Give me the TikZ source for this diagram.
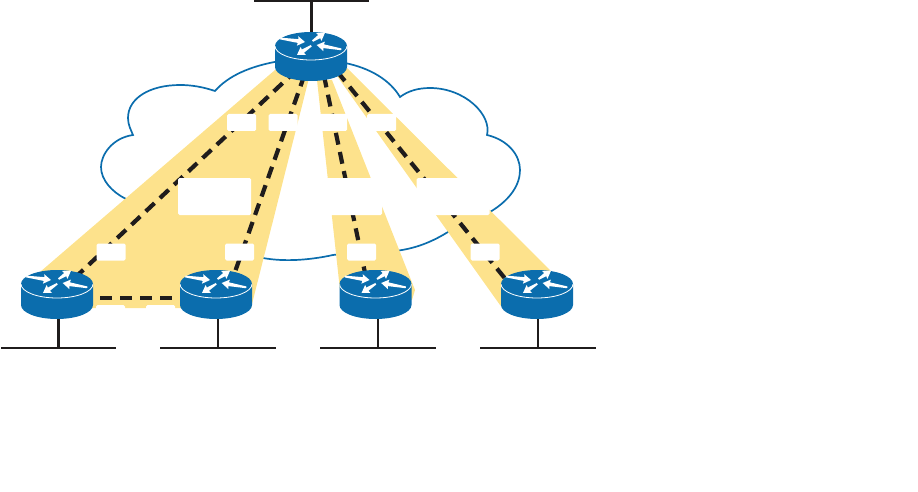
\documentclass[tikz,border=0pt]{standalone}
\usetikzlibrary{positioning,arrows.meta,calc,backgrounds}
\definecolor{routerblue}{HTML}{0B6DAD}
\definecolor{pvcyellow}{HTML}{FDE28C}
\definecolor{wirecol}{HTML}{1F1C1C}
\newcommand{\lidarrow}[5]{% tip x, tip y, direction x, direction y, length
  \fill[white] (#1,#2) -- ({#1-7.5*#3+4.8*#4},{#2-7.5*#4-4.8*#3}) -- ({#1-7*#3+1.9*#4},{#2-7*#4-1.9*#3})
    -- ({#1-#5*#3+0.9*#4},{#2-#5*#4-0.9*#3}) -- ({#1-#5*#3-0.9*#4},{#2-#5*#4+0.9*#3})
    -- ({#1-7*#3-1.9*#4},{#2-7*#4+1.9*#3}) -- ({#1-7.5*#3-4.8*#4},{#2-7.5*#4+4.8*#3}) -- cycle;}
\tikzset{
  router/.style={rectangle,minimum width=72pt,minimum height=49pt,inner sep=0pt,
    path picture={
      \begin{scope}[shift={(path picture bounding box.center)}]
        \fill[routerblue] (-36,-10.5) -- (-36,10.5) arc[start angle=180,end angle=360,x radius=36pt,y radius=14pt]
          -- (36,-10.5) arc[start angle=0,end angle=180,x radius=36pt,y radius=14pt] -- cycle;
        \draw[white,line width=0.8pt] (-36,-10.5) arc[start angle=180,end angle=360,x radius=36pt,y radius=14pt];
        \lidarrow{-6}{-14.5}{0.99}{0.139}{25}
        \lidarrow{14}{-23.8}{0.829}{-0.559}{15}
        \lidarrow{5.7}{-11.5}{-0.985}{-0.174}{25}
        \lidarrow{-14}{-1.5}{-0.839}{0.545}{17}
      \end{scope}}},
  lan/.style={rectangle,fill=wirecol,minimum height=2.4pt,inner sep=0pt},
  stem/.style={wirecol,line width=2.4pt},
  vc/.style={wirecol,line width=4.2pt,dash pattern=on 12pt off 7.5pt},
  pvc/.style={fill=pvcyellow,draw=none},
  cloudline/.style={routerblue,line width=1.7pt},
  tag/.style={rectangle,fill=white,rounded corners=1.5pt,minimum width=29pt,minimum height=17pt,inner sep=0pt},
  bigtag/.style={tag,minimum width=73pt,minimum height=37pt},
}
\begin{document}
\begin{tikzpicture}[x=1pt,y=-1pt]
  \useasboundingbox (0,0) rectangle (918,492);
  % routers, hub on top
  \node[router] (hub) at (311,56.5) {};
  \node[router] (r1) at (57,294.5) {};
  \node[router] (r2) at (216,294.5) {};
  \node[router] (r3) at (375.5,294.5) {};
  \node[router] (r4) at (537,294.5) {};
  % LANs under the routers
  \node[lan,minimum width=115pt] (lan0) at (311.5,1) {};
  \node[lan,minimum width=115pt] (lan1) at (58.5,348) {};
  \node[lan,minimum width=116pt] (lan2) at (218,348) {};
  \node[lan,minimum width=116pt] (lan3) at (378,348) {};
  \node[lan,minimum width=116pt] (lan4) at (538,348) {};
  \draw[stem] (lan0) -- (lan0 |- hub.north);
  \foreach \i in {1,2,3,4}
    \draw[stem] (lan\i) -- (lan\i |- r\i.south);
  \begin{scope}[on background layer]
    % cloud
    \draw[cloudline] (280,61) .. controls (250,66) and (228,76) .. (215,91)
      .. controls (203,87) and (192,85) .. (180,85)
      .. controls (150,85) and (128,98) .. (128,118)
      .. controls (128,125) and (131,130) .. (133,135)
      .. controls (112,138) and (101,155) .. (101,167)
      .. controls (101,180) and (112,192) .. (126,199)
      .. controls (150,215) and (200,250) .. (263,258)
      .. controls (285,262) and (310,260) .. (333,255)
      .. controls (355,252) and (380,254) .. (402,250)
      .. controls (420,247) and (435,240) .. (448,232)
      .. controls (462,226) and (476,220) .. (490,212)
      .. controls (510,200) and (520,185) .. (520,170)
      .. controls (520,155) and (508,140) .. (487,135)
      .. controls (492,115) and (465,88) .. (430,88)
      .. controls (418,88) and (408,91) .. (400,97)
      .. controls (390,80) and (370,68) .. (345,63);
    % yellow bands
    \fill[pvc] (275,70) -- (40,272) -- (60,308) -- (251,308) -- (308,82) -- (311,60) -- cycle;
    \fill[pvc] (317,80) -- (340,290) -- (412,300) -- (415,290) -- (332,80) -- cycle;
    \fill[pvc] (337,76) -- (500,305) -- (505,310) -- (552,272) -- (347,68) -- cycle;
    % virtual circuits
    \draw[vc] (hub.center) -- (r1.center);
    \draw[vc] (hub.center) -- ([xshift=11]r2.center);
    \draw[vc] ([xshift=9]hub.center) -- ([xshift=-6]r3.center);
    \draw[vc] ([xshift=14]hub.center) -- ([xshift=-19]r4.center);
    \draw[vc,dash pattern=on 12pt off 8pt,dash phase=13pt] ([yshift=-3.5]r1.east) -- ([yshift=-3.5]r2.west);
    % empty white tags
    \node[tag] (t1) at (241.5,122.5) {};
    \node[tag] (t2) at (283,122.5) {};
    \node[tag] (t3) at (332.5,122.5) {};
    \node[tag] (t4) at (381.5,122.5) {};
    \node[bigtag] (b1) at (214.5,196.5) {};
    \node[bigtag] (b2) at (345.5,196.5) {};
    \node[bigtag] (b3) at (453,196.5) {};
    \node[tag] (t5) at (111,252) {};
    \node[tag] (t6) at (239.5,252) {};
    \node[tag] (t7) at (361.5,252) {};
    \node[tag] (t8) at (485,252) {};
    \node[tag] (t9) at (110.5,313.5) {};
    \node[tag] (t10) at (160.5,313.5) {};
  \end{scope}
\end{tikzpicture}
\end{document}
